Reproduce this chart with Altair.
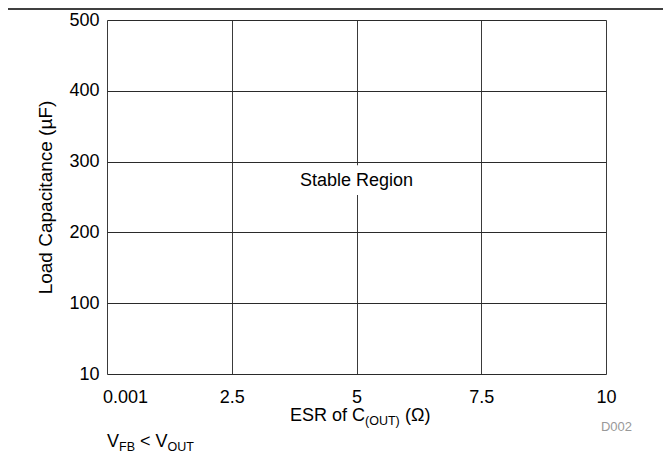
import altair as alt
import pandas as pd

# ---- data ----
x_ticks = [0, 2.5, 5, 7.5, 10]
x_tick_labels = ["0.001", "2.5", "5", "7.5", "10"]
y_ticks = [0, 100, 200, 300, 400, 500]
y_tick_labels = ["10", "100", "200", "300", "400", "500"]
y_title = "Load Capacitance (µF)"
x_title_parts = ["ESR of C", "(OUT)", "(Ω)"]
note_parts = ["V", "FB", "<", "V", "OUT"]
region_label = ["Stable Region"]
region_x = [5]
region_y = [273]
fig_id = ["D002"]

FONT = "Liberation Sans"
W, H = 499, 354


def label_expr(vals, labels):
    expr = "''"
    for v, l in reversed(list(zip(vals, labels))):
        expr = f"datum.value == {v} ? '{l}' : ({expr})"
    return expr


x_axis = alt.Axis(
    values=x_ticks,
    labelExpr=label_expr(x_ticks, x_tick_labels),
    title=None,
    grid=True,
    ticks=False,
    tickSize=0,
    domain=False,
    labelFlush=False,
    labelOverlap=False,
    labelPadding=14,
    labelFontSize=18,
    labelFont=FONT,
    labelColor="black",
    labelOffset={"condition": {"test": "datum.value == 0", "value": 18}, "value": 0},
    gridColor="#3a3a3a",
    gridWidth=1,
    gridOpacity=1,
)

y_axis = alt.Axis(
    values=y_ticks,
    labelExpr=label_expr(y_ticks, y_tick_labels),
    title=y_title,
    grid=True,
    ticks=False,
    tickSize=0,
    domain=False,
    labelFlush=False,
    labelOverlap=False,
    labelPadding=8,
    labelFontSize=18,
    labelFont=FONT,
    labelColor="black",
    gridColor="#2a2a2a",
    gridWidth=1,
    gridOpacity=1,
    titleFont=FONT,
    titleFontSize=19,
    titleFontWeight="normal",
    titleColor="black",
    titleX=-62,
    titleY=177,
    titleBaseline="middle",
)

# white box behind the "Stable Region" label (also carries the axes)
box = alt.Chart(pd.DataFrame({"x": [3.97], "x2": [6.23], "y": [253], "y2": [295]})).mark_rect(
    color="white"
).encode(
    x=alt.X("x:Q", scale=alt.Scale(domain=[0, 10], nice=False, zero=False), axis=x_axis),
    x2="x2:Q",
    y=alt.Y("y:Q", scale=alt.Scale(domain=[0, 500], nice=False, zero=False), axis=y_axis),
    y2="y2:Q",
)

region = alt.Chart(pd.DataFrame({"x": region_x, "y": region_y, "t": region_label})).mark_text(
    font=FONT, fontSize=18, color="black", align="center", baseline="middle"
).encode(x="x:Q", y="y:Q", text="t:N")

one = pd.DataFrame({"k": [0]})

top_rule = alt.Chart(one).mark_rule(color="black", strokeWidth=1.5).encode(
    x=alt.value(-99), x2=alt.value(556), y=alt.value(-11)
)


def txt(s, x, y, size=18, color="black", align="left"):
    return alt.Chart(pd.DataFrame({"t": [s]})).mark_text(
        font=FONT, fontSize=size, color=color, align=align, baseline="alphabetic"
    ).encode(x=alt.value(x), y=alt.value(y), text="t:N")


xt = [
    txt(x_title_parts[0], 183, 401),
    txt(x_title_parts[1], 258, 405, size=12.5),
    txt(x_title_parts[2], 298, 401),
]
note = [
    txt(note_parts[0], 0, 427),
    txt(note_parts[1], 12, 431, size=12.5),
    txt(note_parts[2], 33, 427),
    txt(note_parts[3], 48.5, 427),
    txt(note_parts[4], 60.5, 431, size=12.5),
]
fid = txt(fig_id[0], 525, 411, size=13, color="#999999", align="right")

chart = alt.layer(box, region, top_rule, *xt, *note, fid).properties(
    width=W,
    height=H,
    padding={"left": 99, "top": 12, "right": 57, "bottom": 82},
    autosize=alt.AutoSizeParams(type="none"),
).configure_view(stroke="black", strokeWidth=2.6).configure(background="white")

chart.save("out.html", embed_options={"renderer": "svg", "actions": False})
